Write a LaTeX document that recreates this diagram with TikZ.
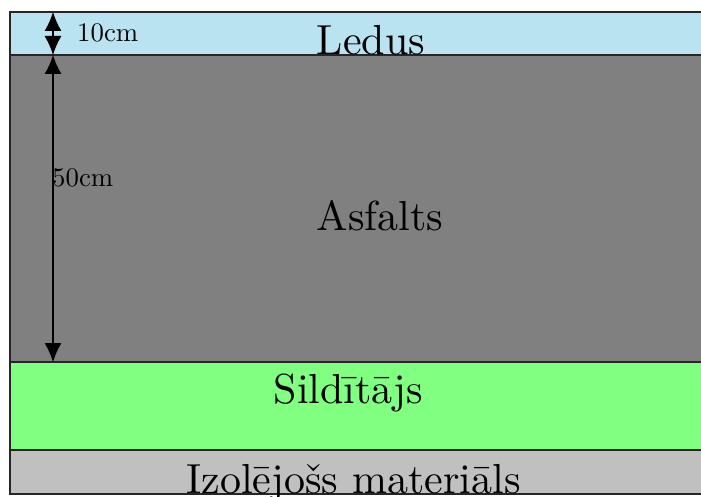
\documentclass[tikz,border=0pt]{standalone}
\usetikzlibrary{arrows.meta}
\definecolor{icecol}{RGB}{185,227,240}
\definecolor{asphcol}{RGB}{128,128,128}
\definecolor{heatcol}{RGB}{128,255,128}
\definecolor{isolcol}{RGB}{192,192,192}
\begin{document}
\begin{tikzpicture}[x=1pt,y=-1pt,
  layerbox/.style={draw=black!85, line width=1.2pt},
  bigtext/.style={inner sep=0pt, anchor=base},
  smalltext/.style={inner sep=0pt, anchor=base west},
  dimarrow/.style={line width=1.2pt, >={Latex[length=19pt,width=17pt]}, <->}]
\useasboundingbox (0,0) rectangle (701,497);
\clip (0,0) rectangle (701,497);
\fill[white] (0,0) rectangle (701,497);
% layers
\draw[layerbox, fill=icecol] (10,12) rectangle (720,55);
\draw[layerbox, fill=asphcol] (10,55) rectangle (720,362);
\draw[layerbox, fill=heatcol] (10,362) rectangle (720,450);
\draw[layerbox, fill=isolcol] (10,450) rectangle (720,494);
% labels
\node[bigtext] (ledus) at (371,55) {\scalebox{4.2}{Ledus}};
\node[bigtext] (asfalts) at (380,230) {\scalebox{4.2}{Asfalts}};
\node[bigtext] (sild) at (348.5,403) {\scalebox{4.2}{Sildītājs}};
\node[bigtext] (izol) at (353.5,493) {\scalebox{4.2}{Izolējošs materiāls}};
% dimensions
\coordinate (d1) at (53,12);
\coordinate (d2) at (53,55);
\coordinate (d3) at (53,362);
\draw[dimarrow] (d1) -- (d2);
\draw[dimarrow] (d2) -- (d3);
\node[smalltext] (l10) at (77,41.7) {\scalebox{2.68}{10cm}};
\node[smalltext] (l50) at (52,186) {\scalebox{2.68}{50cm}};
\end{tikzpicture}
\end{document}
